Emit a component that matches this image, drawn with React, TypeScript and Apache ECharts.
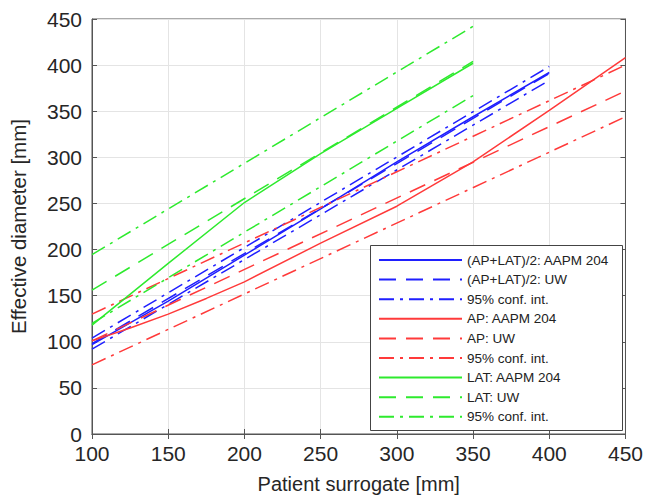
import React, { useEffect, useRef } from "react";
import * as echarts from "echarts";

// ---- data ----
const xTicks = [100, 150, 200, 250, 300, 350, 400, 450];
const yTicks = [0, 50, 100, 150, 200, 250, 300, 350, 400, 450];

const blueAapmX = [100, 150, 200, 250, 300, 350, 400];
const blueAapmY = [97, 144, 194, 244, 295, 344, 392];
const blueUwX = [100, 400];
const blueUwY = [98, 391];
const blueCiHiY = [104, 398.5];
const blueCiLoY = [92, 383.5];

const redAapmX = [100, 125, 150, 175, 200, 250, 300, 350, 400, 450];
const redAapmY = [101, 115, 130, 147, 165, 207, 247, 295, 351, 408];
const redUwX = [100, 450];
const redUwY = [101, 372];
const redCiHiY = [130, 400];
const redCiLoY = [75, 344];

const greenAapmX = [100, 150, 200, 250, 300, 350];
const greenAapmY = [118, 185, 251, 304, 353, 402];
const greenUwX = [100, 350];
const greenUwY = [156, 404];
const greenCiHiY = [194.5, 442];
const greenCiLoY = [120, 367];

const seriesNames = [
  "(AP+LAT)/2: AAPM 204",
  "(AP+LAT)/2: UW",
  "95% conf. int.",
  "AP: AAPM 204",
  "AP: UW",
  "95% conf. int. ",
  "LAT: AAPM 204",
  "LAT: UW",
  "95% conf. int.  ",
];

const BLUE = "#1f1fff";
const RED = "#ff3a3a";
const GREEN = "#2eea2e";
const DASH = [17, 10];
const DASHDOT = [15, 6, 3, 6];
const FONT = 'Arial, "Liberation Sans", sans-serif';

function zip(xs: number[], ys: number[]) {
  return xs.map((x, i) => [x, ys[i]]);
}

export default function App() {
  const ref = useRef<HTMLDivElement>(null);
  useEffect(() => {
    document.body.style.margin = "0";
    if (!ref.current) return;
    const chart = echarts.init(ref.current, undefined, { renderer: "svg" });

    const mk = (name: string, data: number[][], color: string, type: any) => ({
      name,
      type: "line",
      data,
      symbol: "none",
      showSymbol: false,
      xAxisIndex: 0,
      yAxisIndex: 0,
      lineStyle: { color, width: 1.5, type },
      itemStyle: { color },
      emphasis: { disabled: true },
    });

    const series = [
      mk(seriesNames[0], zip(blueAapmX, blueAapmY), BLUE, "solid"),
      mk(seriesNames[1], zip(blueUwX, blueUwY), BLUE, DASH),
      mk(seriesNames[2], zip(blueUwX, blueCiHiY), BLUE, DASHDOT),
      mk(seriesNames[2], zip(blueUwX, blueCiLoY), BLUE, DASHDOT),
      mk(seriesNames[3], zip(redAapmX, redAapmY), RED, "solid"),
      mk(seriesNames[4], zip(redUwX, redUwY), RED, DASH),
      mk(seriesNames[5], zip(redUwX, redCiHiY), RED, DASHDOT),
      mk(seriesNames[5], zip(redUwX, redCiLoY), RED, DASHDOT),
      mk(seriesNames[6], zip(greenAapmX, greenAapmY), GREEN, "solid"),
      mk(seriesNames[7], zip(greenUwX, greenUwY), GREEN, DASH),
      mk(seriesNames[8], zip(greenUwX, greenCiHiY), GREEN, DASHDOT),
      mk(seriesNames[8], zip(greenUwX, greenCiLoY), GREEN, DASHDOT),
    ];

    const axisCommon = {
      type: "value",
      axisLine: { show: true, lineStyle: { color: "#555", width: 1 } },
      axisTick: { show: true, inside: true, length: 5, lineStyle: { color: "#555" } },
    };

    chart.setOption({
      animation: false,
      grid: {
        left: 90,
        right: 20,
        top: 19,
        bottom: 68,
        show: true,
        borderColor: "#555",
        borderWidth: 1,
        backgroundColor: "#fff",
      },
      xAxis: [
        {
          ...axisCommon,
          min: xTicks[0],
          max: xTicks[xTicks.length - 1],
          interval: 50,
          name: "Patient surrogate [mm]",
          nameLocation: "middle",
          nameGap: 40,
          nameTextStyle: { fontSize: 20, color: "#262626", fontFamily: FONT },
          axisLabel: { fontSize: 21, color: "#262626", fontFamily: FONT, margin: 9 },
          splitLine: { show: true, lineStyle: { color: "#e4e4e4", width: 1 } },
        },
        {
          ...axisCommon,
          position: "top",
          min: xTicks[0],
          max: xTicks[xTicks.length - 1],
          interval: 50,
          axisLabel: { show: false },
          splitLine: { show: false },
        },
      ],
      yAxis: [
        {
          ...axisCommon,
          min: yTicks[0],
          max: yTicks[yTicks.length - 1],
          interval: 50,
          name: "Effective diameter [mm]",
          nameLocation: "middle",
          nameGap: 63,
          nameTextStyle: { fontSize: 20.5, color: "#262626", fontFamily: FONT },
          axisLabel: { fontSize: 21, color: "#262626", fontFamily: FONT, margin: 10 },
          splitLine: { show: true, lineStyle: { color: "#e4e4e4", width: 1 } },
        },
        {
          ...axisCommon,
          position: "right",
          min: yTicks[0],
          max: yTicks[yTicks.length - 1],
          interval: 50,
          axisLabel: { show: false },
          splitLine: { show: false },
        },
      ],
      graphic: [
        {
          type: "rect",
          z: 3,
          shape: { x: 370.5, y: 245.5, width: 252, height: 185 },
          style: { fill: "#fff", stroke: "#444", lineWidth: 1 },
        },
      ],
      legend: {
        orient: "vertical",
        left: 378,
        top: 253,
        padding: 0,
        itemWidth: 83,
        itemHeight: 14,
        itemGap: 5.6,
        z: 10,
        selectedMode: false,
        itemStyle: { opacity: 0 },
        textStyle: { fontSize: 13.5, color: "#222", fontFamily: FONT },
        data: seriesNames,
      },
      series,
    });
    return () => chart.dispose();
  }, []);
  return <div ref={ref} style={{ width: 646, height: 502 }} />;
}
